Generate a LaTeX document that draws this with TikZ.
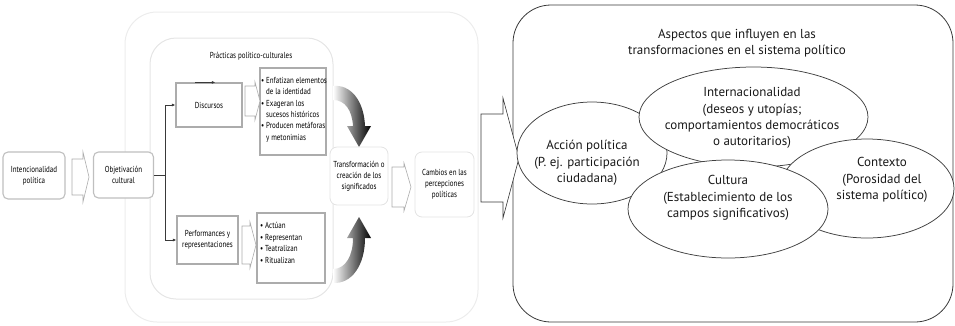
\documentclass[tikz,border=0pt]{standalone}
\usepackage{fontspec}
\setmainfont{PT Sans}
\newfontfamily\condf[FakeStretch=0.8]{PT Sans}
\usetikzlibrary{calc,shapes.geometric,arrows.meta}
\newcommand{\barrowshape}[7]{% style, x0, xh, xt, yc, h, H
  \draw[#1] (#2,{#5-#6}) -- (#3,{#5-#6}) -- (#3,{#5-#7}) -- (#4,#5) -- (#3,{#5+#7}) -- (#3,{#5+#6}) -- (#2,{#5+#6}) -- cycle;}
\begin{document}
\begin{tikzpicture}[x=1pt,y=-1pt,
  smallt/.style={font=\condf\fontsize{8.7}{11}\selectfont, align=center, text=black},
  rbox/.style={draw=gray!50, line width=1.1pt, rounded corners=5pt, fill=white, smallt, inner sep=1pt},
  sbox/.style={draw=gray!65, line width=1.2pt, fill=white, smallt, inner sep=1pt},
  fbox/.style={draw=gray!22, line width=0.8pt, rounded corners=7pt, fill=white, smallt, inner sep=1pt},
  barrowst/.style={draw=gray!65, line width=0.6pt, fill=white},
  bigarrowst/.style={draw=gray!45!black, line width=0.6pt, fill=white},
  conn/.style={draw=gray!45!black, line width=0.7pt},
  tip/.style={-{Latex[length=3.5pt,width=3pt]}},
  ell/.style={ellipse, draw=gray!50!black, line width=0.75pt, fill=white, inner sep=0pt},
  bigt/.style={font=\fontsize{13}{16.3}\selectfont, align=center, text=black!90},
  region/.style={draw=gray!15, line width=1pt}
]
\useasboundingbox (0,0) rectangle (955,325);

% faint background regions
\draw[region, rounded corners=32pt] (125,12) rectangle (478,322);
\draw[region, draw=gray!20, rounded corners=26pt] (150,38) rectangle (333,299);
\node[smallt] (ptitle) at (251,56) {Prácticas político-culturales};

% right region
\draw[draw=gray!45!black, line width=0.8pt, rounded corners=38pt] (513,5) rectangle (953,322);

% left chain
\node[rbox, minimum width=62pt, minimum height=47pt] (intc) at (34,175.5) {Intencionalidad\\política};
\node[rbox, minimum width=60pt, minimum height=46pt] (obj) at (123.5,175) {Objetivación\\cultural};
\barrowshape{barrowst}{72}{83}{89}{177}{18}{25}

\node[sbox, minimum width=66pt, minimum height=44pt] (disc) at (209,105) {Discursos};
\node[sbox, minimum width=61pt, minimum height=48pt] (perf) at (207.5,240) {Performances y\\representaciones};

\draw[conn] (obj.east) -- ++(11.5,0) coordinate (sp);
\draw[conn,tip] (sp) |- (disc.west);
\draw[conn,tip] (sp) |- (perf.west);
\draw[conn,tip] ($(disc.north west)+(20,0)$) -- ($(disc.north west)+(40,0)$);

% lists
\node[sbox, minimum width=66pt, minimum height=87pt] (l1) at (293,111.5) {};
\node[smallt, align=left, anchor=north west, inner sep=0pt, font=\condf\fontsize{8.7}{11.4}\selectfont] (l1t) at (261,77)
  {• Enfatizan elementos\\\hphantom{• }de la identidad\\• Exageran los\\\hphantom{• }sucesos históricos\\• Producen metáforas\\\hphantom{• }y metonimias};
\node[sbox, minimum width=68pt, minimum height=70pt] (l2) at (291,248) {};
\node[smallt, align=left, anchor=north west, inner sep=0pt, font=\condf\fontsize{8.7}{11.7}\selectfont] (l2t) at (260,222)
  {• Actúan\\• Representan\\• Teatralizan\\• Ritualizan};
\barrowshape{barrowst}{245}{255}{260}{101}{15}{19}
\barrowshape{barrowst}{242}{250}{256}{245}{19}{23}

% curved gradient arrows
\shade[left color=white, right color=black]
  (333,86) .. controls (350,84) and (364,100) .. (365,126) -- (371,126) -- (359,147) -- (347,126)
  -- (353,126) .. controls (352,110) and (345,100) .. (333,100) -- cycle;
\shade[left color=white, right color=black]
  (333,283) .. controls (352,284) and (365,265) .. (365,238) -- (371,238) -- (359,217) -- (347,238)
  -- (353,238) .. controls (353,255) and (346,269) .. (333,269) -- cycle;

% transformation and change
\node[fbox, minimum width=58pt, minimum height=58pt] (trans) at (359,176) {Transformación o\\creación de los\\significados};
\node[fbox, minimum width=59pt, minimum height=65pt] (camb) at (444.5,184.5) {Cambios en las\\percepciones\\políticas};
\barrowshape{barrowst}{392}{404}{411}{187}{20}{24}

% big arrow
\barrowshape{bigarrowst}{481}{503}{519}{158}{44}{60}

% right side
\node[bigt] (title) at (737,43) {Aspectos que influyen en las\\transformaciones en el sistema político};
\node[ell, minimum width=150pt, minimum height=102pt] (acc) at (592,153) {};
\node[ell, minimum width=229pt, minimum height=100pt] (intl) at (753.5,117) {};
\node[ell, minimum width=174pt, minimum height=99pt] (ctx) at (867,188.5) {};
\node[ell, minimum width=200pt, minimum height=98pt] (cult) at (728,209) {};
\node[bigt] (acct) at (587,163) {Acción política\\(P. ej. participación\\ciudadana)};
\node[bigt] (intlt) at (752,118) {Internacionalidad\\(deseos y utopías;\\comportamientos democráticos\\o autoritarios)};
\node[bigt] (ctxt) at (882,180) {Contexto\\(Porosidad del\\sistema político)};
\node[bigt] (cultt) at (728,198) {Cultura\\(Establecimiento de los\\campos significativos)};
\end{tikzpicture}
\end{document}
